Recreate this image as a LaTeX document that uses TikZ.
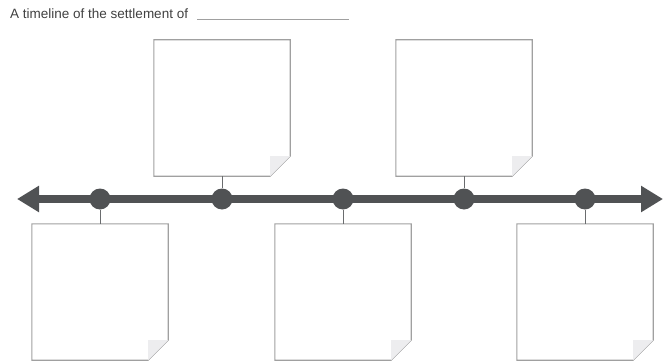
\documentclass[tikz,border=0pt]{standalone}
\usepackage{fontspec}
\setmainfont{Liberation Sans}
\usetikzlibrary{arrows.meta}

\definecolor{linegray}{HTML}{505254}
\definecolor{edgegray}{HTML}{A0A0A0}
\definecolor{foldgray}{HTML}{EDEDEF}

\tikzset{
  note/.style={minimum width=136pt, minimum height=136pt, inner sep=0pt},
  notedraw/.style={draw=edgegray, line width=1.1pt, fill=white},
  fold/.style={fill=foldgray},
  dot/.style={circle, fill=linegray, minimum size=21pt, inner sep=0pt},
  stem/.style={draw=linegray!85, line width=1pt},
  timeline/.style={draw=linegray, line width=8pt,
    {Triangle[length=22pt,width=25pt]}-{Triangle[length=22pt,width=25pt]}}
}

% dog-eared outline round a note node
\newcommand\noteoutline[1]{%
  \draw[notedraw] (#1.north west) -- (#1.north east) -- ([yshift=20pt]#1.south east)
    -- ([xshift=-20pt]#1.south east) -- (#1.south west) -- cycle;
  \fill[fold] ([yshift=20pt]#1.south east) -- ([xshift=-20pt,yshift=20pt]#1.south east)
    -- ([xshift=-20pt]#1.south east) -- cycle;
}

\begin{document}
\begin{tikzpicture}[x=1pt,y=-1pt]
  \useasboundingbox (0,0) rectangle (663,361);

  % heading
  \node[anchor=base west, inner sep=0pt, text=black!75, font=\fontsize{13.5}{15}\selectfont]
    (title) at (10,19) {A timeline of the settlement of};
  \draw[edgegray, line width=1pt] ([xshift=9pt,yshift=-1pt]title.base east) -- ++(152,0);

  % the line
  \coordinate (la) at (17,199);
  \coordinate (ra) at (663,199);
  \draw[timeline] (la) -- (ra);

  % notes above and below
  \node[note] (n1) at (100,292) {};
  \node[note] (n2) at (222,108) {};
  \node[note] (n3) at (343,292) {};
  \node[note] (n4) at (464,108) {};
  \node[note] (n5) at (585,292) {};
  \foreach \n in {n1,n2,n3,n4,n5} {\noteoutline{\n}}

  % dots
  \node[dot] (d1) at (100,199) {};
  \node[dot] (d2) at (222,199) {};
  \node[dot] (d3) at (343,199) {};
  \node[dot] (d4) at (464,199) {};
  \node[dot] (d5) at (585,199) {};

  \foreach \i in {1,...,5} {\draw[stem] (d\i) -- (n\i);}
\end{tikzpicture}
\end{document}
